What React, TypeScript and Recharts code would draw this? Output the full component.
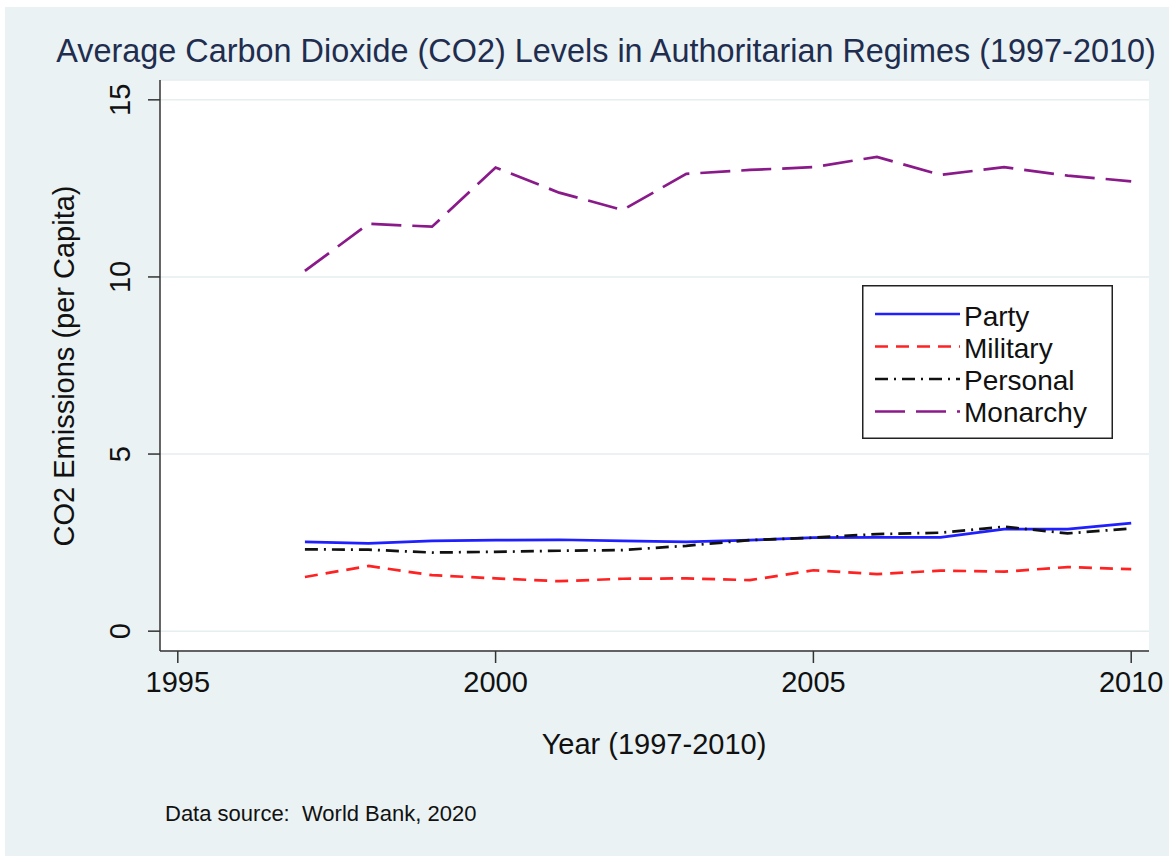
import { CartesianGrid, Legend, Line, LineChart, XAxis, YAxis } from "recharts";

const YEARS = [1997, 1998, 1999, 2000, 2001, 2002, 2003, 2004, 2005, 2006, 2007, 2008, 2009, 2010];
const PARTY = [2.52, 2.48, 2.55, 2.57, 2.58, 2.55, 2.52, 2.57, 2.64, 2.65, 2.65, 2.88, 2.88, 3.05];
const MILITARY = [1.53, 1.84, 1.58, 1.49, 1.41, 1.48, 1.49, 1.44, 1.72, 1.61, 1.71, 1.68, 1.81, 1.75];
const PERSONAL = [2.31, 2.3, 2.22, 2.24, 2.27, 2.29, 2.41, 2.57, 2.64, 2.74, 2.78, 2.95, 2.76, 2.9];
const MONARCHY = [10.17, 11.5, 11.42, 13.09, 12.38, 11.89, 12.91, 13.02, 13.1, 13.39, 12.88, 13.1, 12.86, 12.7];

const X_TICKS = [1995, 2000, 2005, 2010];
const Y_TICKS = [0, 5, 10, 15];

const TITLE = "Average Carbon Dioxide (CO2) Levels in Authoritarian Regimes (1997-2010)";
const X_LABEL = "Year (1997-2010)";
const Y_LABEL = "CO2 Emissions (per Capita)";
const NOTE = "Data source:  World Bank, 2020";

const SERIES = [
  { key: "party", name: "Party", color: "#1f1fff", dash: undefined as string | undefined },
  { key: "military", name: "Military", color: "#ff2222", dash: "13 8" },
  { key: "personal", name: "Personal", color: "#111111", dash: "13 6 2 6" },
  { key: "monarchy", name: "Monarchy", color: "#8a1a8a", dash: "30 11" },
];

const rows = YEARS.map((year, i) => ({
  year,
  party: PARTY[i],
  military: MILITARY[i],
  personal: PERSONAL[i],
  monarchy: MONARCHY[i],
}));

const FONT = "'Liberation Sans', Arial, Helvetica, sans-serif";
const BG = "#eaf2f3";
const LINE_W = 2.7;

function XTick({ x, y, payload }: any) {
  return (
    <text x={x} y={y + 29} textAnchor="middle" fontSize={29} fontFamily={FONT} fill="#111">
      {payload.value}
    </text>
  );
}

function YTick({ x, y, payload }: any) {
  const px = x - 18;
  return (
    <text
      x={px}
      y={y}
      textAnchor="middle"
      fontSize={29}
      fontFamily={FONT}
      fill="#111"
      transform={`rotate(-90, ${px}, ${y})`}
    >
      {payload.value}
    </text>
  );
}

function LegendBox() {
  return (
    <svg width={251} height={154} style={{ display: "block" }}>
      <rect x={0.75} y={0.75} width={249.5} height={152.5} fill="#fff" stroke="#222" strokeWidth={1.5} />
      {SERIES.map((s, i) => (
        <g key={s.key}>
          <line
            x1={13}
            x2={98}
            y1={29 + i * 32.5}
            y2={29 + i * 32.5}
            stroke={s.color}
            strokeWidth={LINE_W}
            strokeDasharray={s.dash}
          />
          <text x={102} y={41 + i * 32} fontSize={28} fontFamily={FONT} fill="#111">
            {s.name}
          </text>
        </g>
      ))}
    </svg>
  );
}

export default function App() {
  return (
    <div
      style={{
        position: "absolute",
        left: 5,
        top: 7,
        width: 1164,
        height: 849,
        background: BG,
        fontFamily: FONT,
      }}
    >
      <LineChart
        width={1164}
        height={849}
        data={rows}
        margin={{ top: 73, right: 20, bottom: 145, left: 55 }}
      >
        <CartesianGrid vertical={false} stroke="#e6eef0" strokeWidth={1.5} fill="#fff" />
        <XAxis
          dataKey="year"
          type="number"
          domain={[1994.72, 2010.28]}
          allowDataOverflow
          ticks={X_TICKS}
          height={60}
          tickSize={12}
          tickMargin={0}
          tick={<XTick />}
          axisLine={{ stroke: "#333", strokeWidth: 1.5 }}
          tickLine={{ stroke: "#333", strokeWidth: 1.5 }}
        />
        <YAxis
          type="number"
          domain={[-0.56, 15.56]}
          allowDataOverflow
          ticks={Y_TICKS}
          width={100}
          tickSize={12}
          tickMargin={0}
          tick={<YTick />}
          axisLine={{ stroke: "#333", strokeWidth: 1.5 }}
          tickLine={{ stroke: "#333", strokeWidth: 1.5 }}
        />
        {SERIES.map((s) => (
          <Line
            key={s.key}
            dataKey={s.key}
            name={s.name}
            type="linear"
            stroke={s.color}
            strokeWidth={LINE_W}
            strokeDasharray={s.dash}
            dot={false}
            activeDot={false}
            isAnimationActive={false}
          />
        ))}
        <Legend
          layout="vertical"
          align="center"
          verticalAlign="middle"
          content={() => <LegendBox />}
          wrapperStyle={{ position: "absolute", left: 857, top: 278, width: 251, height: 154 }}
        />
      </LineChart>
      <svg
        width={1164}
        height={849}
        style={{ position: "absolute", left: 0, top: 0, pointerEvents: "none" }}
      >
        <text x={601} y={55} textAnchor="middle" fontSize={32.4} fontFamily={FONT} fill="#1f2d4f">
          {TITLE}
        </text>
        <text
          x={69}
          y={359}
          textAnchor="middle"
          fontSize={29}
          fontFamily={FONT}
          fill="#111"
          transform="rotate(-90, 69, 359)"
        >
          {Y_LABEL}
        </text>
        <text x={649} y={747} textAnchor="middle" fontSize={29} fontFamily={FONT} fill="#111">
          {X_LABEL}
        </text>
        <text x={160} y={814} fontSize={22} fontFamily={FONT} fill="#111" style={{ whiteSpace: "pre" }}>
          {NOTE}
        </text>
      </svg>
    </div>
  );
}
